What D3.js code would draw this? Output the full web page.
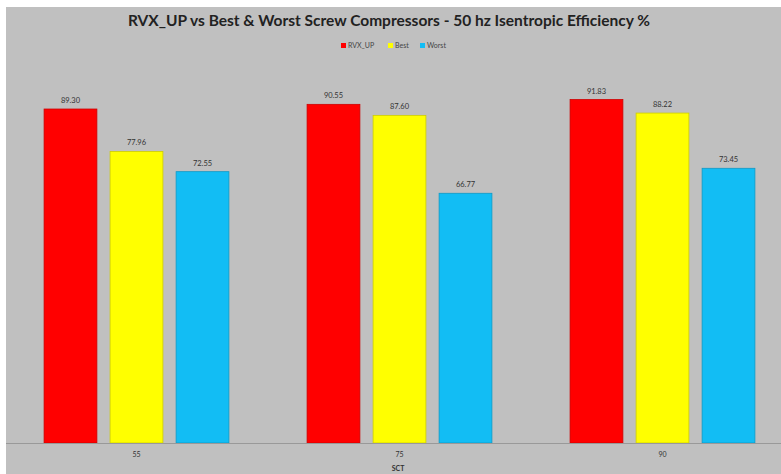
<!DOCTYPE html>
<html>
<head>
<meta charset="utf-8">
<script src="https://cdn.jsdelivr.net/npm/d3@7"></script>
<style>
  body { margin: 0; background: #fff; }
  svg { display: block; }
</style>
</head>
<body>
<div id="chart"></div>
<script>
// data
const categories = ["55", "75", "90"];
const seriesNames = ["RVX_UP", "Best", "Worst"];
const rvxUp = [89.30, 90.55, 91.83];
const best = [77.96, 87.60, 88.22];
const worst = [72.55, 66.77, 73.45];
const colors = ["#ff0000", "#ffff00", "#12bdf4"];

const width = 781, height = 474;

const svg = d3.select("#chart").append("svg")
    .attr("width", width)
    .attr("height", height);

// grey chart area, white strip on top/left as in the picture
svg.append("rect")
    .attr("x", 6).attr("y", 7)
    .attr("width", width - 6).attr("height", height - 7)
    .attr("fill", "#c0c0c0");

const values = [rvxUp, best, worst];
const rows = categories.map((c, i) => ({
    cat: c,
    vals: seriesNames.map((s, j) => ({ name: s, value: values[j][i], idx: j }))
}));

const x0 = d3.scaleBand()
    .domain(categories)
    .range([5, 794])
    .paddingInner(0.247)
    .paddingOuter(0.1235);

const x1 = d3.scaleBand()
    .domain(seriesNames)
    .range([0, x0.bandwidth()])
    .paddingInner(0.2)
    .paddingOuter(0.1);

const y = d3.scaleLinear()
    .domain([0, 100])
    .range([443, 69]);

// title
svg.append("text")
    .attr("x", 389).attr("y", 26)
    .attr("text-anchor", "middle")
    .attr("font-family", "Lato, 'Open Sans', sans-serif")
    .attr("font-weight", "bold")
    .attr("font-size", 15.5)
    .attr("fill", "#222")
    .text("RVX_UP vs Best & Worst Screw Compressors - 50 hz Isentropic Efficiency %");

// legend
const legend = svg.append("g").attr("transform", "translate(341,46)");
const legendX = [0, 47, 79];
seriesNames.forEach((s, i) => {
    const g = legend.append("g").attr("transform", `translate(${legendX[i]},0)`);
    g.append("rect")
        .attr("x", 0).attr("y", -3)
        .attr("width", 5).attr("height", 5)
        .attr("fill", colors[i]);
    g.append("text")
        .attr("x", 7).attr("y", 2)
        .attr("font-family", "Lato, sans-serif")
        .attr("font-size", 7)
        .attr("fill", "#444")
        .text(s);
});

// bars
const groups = svg.append("g").selectAll("g")
    .data(rows)
    .join("g")
    .attr("transform", d => `translate(${x0(d.cat)},0)`);

groups.selectAll("rect")
    .data(d => d.vals)
    .join("rect")
    .attr("x", d => x1(d.name))
    .attr("y", d => y(d.value))
    .attr("width", x1.bandwidth())
    .attr("height", d => y(0) - y(d.value))
    .attr("fill", d => colors[d.idx])
    .attr("stroke", d => d3.color(colors[d.idx]).darker(0.6))
    .attr("stroke-width", 0.8);

groups.selectAll("text")
    .data(d => d.vals)
    .join("text")
    .attr("x", d => x1(d.name) + x1.bandwidth() / 2)
    .attr("y", d => y(d.value) - 6)
    .attr("text-anchor", "middle")
    .attr("font-family", "Lato, sans-serif")
    .attr("font-size", 7.5)
    .attr("fill", "#333")
    .text(d => d.value.toFixed(2));

// x axis
const xAxis = svg.append("g")
    .attr("transform", `translate(0,${y(0)})`)
    .call(d3.axisBottom(x0).tickSize(0).tickPadding(9));
xAxis.select(".domain").attr("stroke", "#999").attr("d", "M6,0.5H781");
xAxis.selectAll("text")
    .attr("font-family", "Lato, sans-serif")
    .attr("font-size", 7)
    .attr("fill", "#333");

svg.append("text")
    .attr("x", 398).attr("y", 471)
    .attr("text-anchor", "middle")
    .attr("font-family", "Lato, sans-serif")
    .attr("font-weight", "bold")
    .attr("font-size", 7)
    .attr("fill", "#333")
    .text("SCT");
</script>
</body>
</html>
